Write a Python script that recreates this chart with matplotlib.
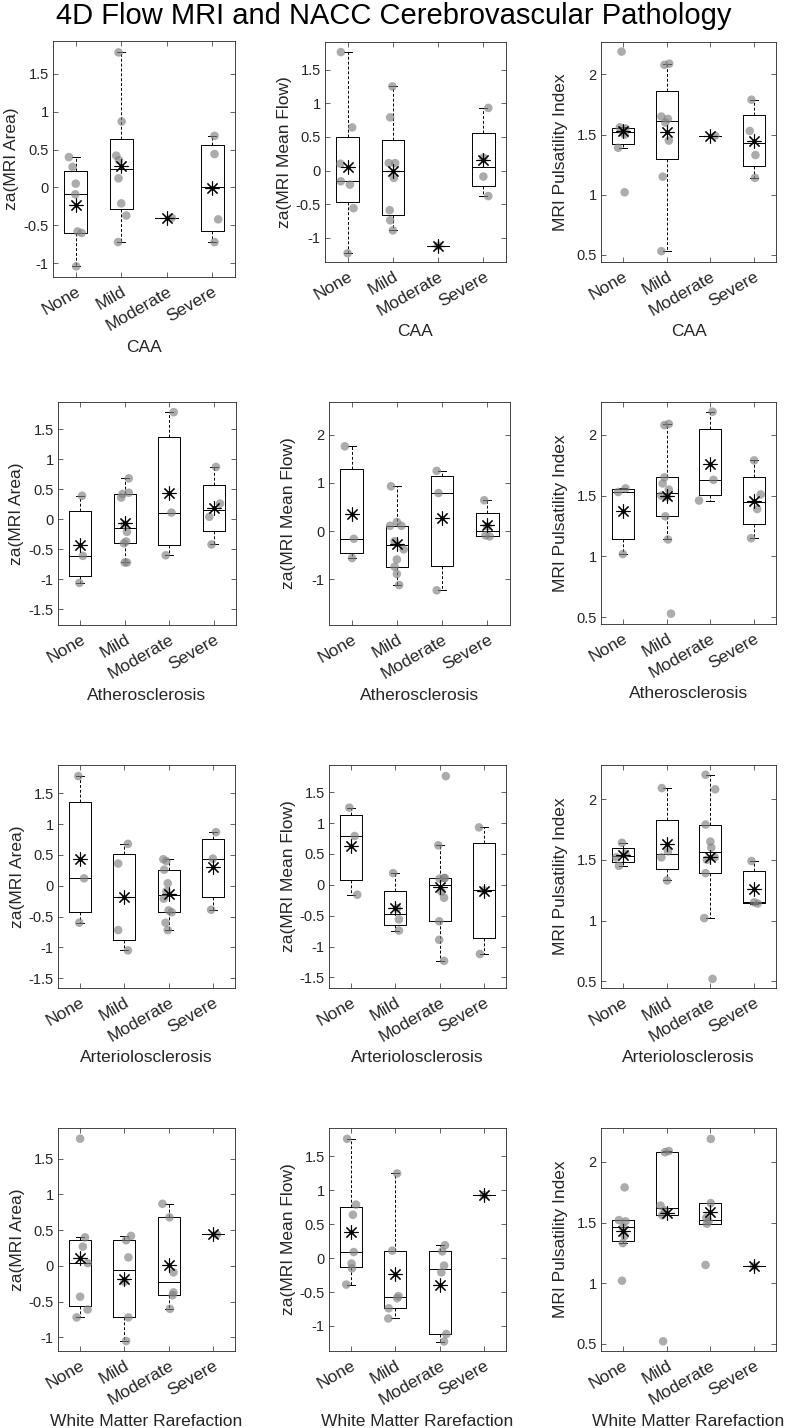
import numpy as np
import matplotlib
matplotlib.use("Agg")
import matplotlib.pyplot as plt

plt.rcParams['font.family'] = ['Liberation Sans', 'DejaVu Sans']
plt.rcParams['axes.unicode_minus'] = False

# --- Data ---
severity = ["None", "Mild", "Moderate", "Severe"]
pathologies = ["CAA", "Atherosclerosis", "Arteriolosclerosis", "White Matter Rarefaction"]
measures = ["za(MRI Area)", "za(MRI Mean Flow)", "MRI Pulsatility Index"]

# values per severity group (None, Mild, Moderate, Severe)
caa_area = [[0.40, 0.27, 0.05, -0.09, -0.58, -0.60, -1.04],
            [1.78, 0.87, 0.42, 0.36, 0.12, -0.21, -0.37, -0.72],
            [-0.40],
            [0.68, 0.44, -0.42, -0.72]]
caa_flow = [[1.76, 0.64, 0.10, -0.16, -0.21, -0.56, -1.23],
            [1.25, 0.79, 0.11, 0.11, -0.11, -0.59, -0.74, -0.89],
            [-1.12],
            [0.93, 0.19, -0.09, -0.38]]
caa_pi = [[2.19, 1.56, 1.55, 1.52, 1.50, 1.39, 1.02],
          [2.09, 2.08, 1.65, 1.63, 1.60, 1.45, 1.15, 0.53],
          [1.49],
          [1.79, 1.53, 1.33, 1.14]]

ath_area = [[0.39, -0.61, -1.06],
            [0.68, 0.44, 0.42, 0.36, -0.09, -0.21, -0.37, -0.40, -0.72, -0.72],
            [1.78, 0.11, -0.60],
            [0.87, 0.26, 0.04, -0.42]]
ath_flow = [[1.76, -0.16, -0.56],
            [0.93, 0.19, 0.11, 0.11, -0.21, -0.38, -0.59, -0.74, -0.89, -1.12],
            [1.25, 0.79, -1.23],
            [0.64, 0.10, -0.09, -0.11]]
ath_pi = [[1.56, 1.53, 1.02],
          [2.09, 2.08, 1.65, 1.60, 1.55, 1.50, 1.49, 1.33, 1.14, 0.53],
          [2.19, 1.63, 1.46],
          [1.79, 1.51, 1.39, 1.15]]

art_area = [[1.78, 0.12, -0.60],
            [0.68, 0.36, -0.72, -1.05],
            [0.43, 0.40, 0.26, 0.04, -0.09, -0.21, -0.40, -0.43, -0.60, -0.72],
            [0.87, 0.44, -0.39]]
art_flow = [[1.25, 0.79, -0.16],
            [0.19, -0.38, -0.56, -0.74],
            [1.76, 0.64, 0.11, 0.11, 0.10, -0.11, -0.21, -0.59, -0.89, -1.23],
            [0.93, -0.09, -1.12]]
art_pi = [[1.64, 1.55, 1.52, 1.45],
          [2.09, 1.57, 1.52, 1.33],
          [2.20, 2.08, 1.79, 1.65, 1.60, 1.52, 1.50, 1.39, 1.02, 0.52],
          [1.49, 1.15, 1.14]]

wmr_area = [[1.78, 0.40, 0.27, 0.04, -0.43, -0.61, -0.72],
            [0.42, 0.36, 0.12, -0.22, -0.72, -1.05],
            [0.87, 0.68, -0.09, -0.37, -0.41, -0.60],
            [0.44]]
wmr_flow = [[1.76, 0.79, 0.64, 0.09, -0.08, -0.15, -0.39],
            [1.25, 0.11, -0.56, -0.59, -0.74, -0.89],
            [0.19, 0.10, -0.11, -0.21, -1.12, -1.23],
            [0.93]]
wmr_pi = [[1.79, 1.52, 1.51, 1.46, 1.39, 1.33, 1.02],
          [2.09, 2.08, 1.64, 1.60, 1.56, 0.52],
          [2.19, 1.66, 1.54, 1.51, 1.49, 1.15],
          [1.14]]

# horizontal jitter of each dot (category units)
caa_area_jit = [[-0.15, -0.07, 0.0, -0.01, 0.04, 0.13, 0.01],
                [-0.06, 0.01, -0.11, -0.05, -0.06, 0.0, 0.11, -0.07],
                [0.11], [0.05, 0.05, 0.13, 0.05]]
caa_flow_jit = [[-0.15, 0.10, -0.16, -0.15, 0.05, 0.13, 0.0],
                [-0.01, -0.06, -0.09, 0.05, 0.02, -0.07, -0.06, 0.0],
                [0.0], [0.11, 0.0, 0.0, 0.11]]
caa_pi_jit = [[-0.03, -0.07, 0.06, 0.0, 0.04, -0.11, 0.04],
              [0.06, -0.05, -0.12, 0.03, -0.03, 0.05, -0.09, -0.12],
              [0.11], [-0.06, -0.10, 0.03, 0.02]]
ath_area_jit = [[0.04, 0.06, -0.02],
                [0.09, 0.09, -0.05, -0.08, 0.0, 0.05, 0.03, -0.02, 0.0, 0.05],
                [0.10, 0.05, -0.08], [0.05, 0.14, -0.10, -0.05]]
ath_flow_jit = [[-0.15, 0.05, 0.01],
                [-0.13, 0.0, -0.15, 0.10, -0.05, 0.15, 0.0, -0.05, 0.0, 0.05],
                [-0.12, -0.08, -0.12], [-0.07, 0.0, -0.04, 0.05]]
ath_pi_jit = [[0.06, -0.11, 0.0],
              [0.05, -0.05, -0.05, -0.09, 0.05, -0.12, 0.01, -0.03, 0.03, 0.10],
              [0.05, 0.07, -0.26], [0.0, 0.15, 0.07, -0.07]]
art_area_jit = [[-0.04, 0.09, -0.02],
                [0.08, -0.14, -0.14, 0.08],
                [-0.12, -0.05, -0.10, -0.02, -0.05, -0.11, 0.0, 0.07, -0.07, -0.02],
                [0.07, 0.0, -0.04]]
art_flow_jit = [[-0.04, 0.08, 0.14],
                [-0.05, 0.04, 0.08, 0.08],
                [0.14, -0.03, 0.10, 0.12, 0.0, 0.04, 0.10, -0.01, -0.01, 0.10],
                [-0.11, 0.0, -0.09]]
art_pi_jit = [[-0.02, 0.06, -0.15, -0.09],
              [-0.11, 0.03, -0.12, 0.01],
              [-0.11, 0.11, -0.11, 0.0, 0.02, 0.10, -0.08, -0.11, -0.14, 0.05],
              [-0.06, 0.0, 0.08]]
wmr_area_jit = [[0.0, 0.11, 0.06, 0.17, 0.0, 0.17, -0.08],
                [0.15, 0.04, 0.09, 0.0, 0.09, 0.04],
                [-0.14, 0.02, 0.11, 0.11, 0.09, 0.03], [0.09]]
wmr_flow_jit = [[-0.09, 0.11, 0.04, 0.06, 0.01, 0.02, -0.11],
                [0.04, -0.07, 0.07, 0.04, -0.15, -0.16],
                [0.12, 0.06, 0.10, 0.04, 0.15, 0.10], [0.0]]
wmr_pi_jit = [[0.04, -0.09, 0.06, 0.0, 0.04, 0.0, -0.02],
              [0.05, -0.04, -0.14, -0.04, -0.10, -0.08],
              [0.01, 0.01, -0.09, -0.04, -0.08, -0.11], [0.0]]

panels = [
    [(caa_area, caa_area_jit), (caa_flow, caa_flow_jit), (caa_pi, caa_pi_jit)],
    [(ath_area, ath_area_jit), (ath_flow, ath_flow_jit), (ath_pi, ath_pi_jit)],
    [(art_area, art_area_jit), (art_flow, art_flow_jit), (art_pi, art_pi_jit)],
    [(wmr_area, wmr_area_jit), (wmr_flow, wmr_flow_jit), (wmr_pi, wmr_pi_jit)],
]

# --- Layout (pixel boxes: left, top, right, bottom) and axis ranges ---
W, H = 788, 1428
boxes = [
    [(53, 41, 235, 277), (325, 42, 506, 262), (601, 42, 776, 262)],
    [(58, 402, 236, 625), (329, 402, 510, 625), (601, 402, 776, 624)],
    [(58, 765, 235, 988), (329, 765, 506, 988), (601, 765, 776, 988)],
    [(58, 1128, 235, 1351), (329, 1128, 506, 1351), (601, 1128, 776, 1351)],
]
ylims = [
    [(-1.18, 1.93), (-1.36, 1.91), (0.44, 2.27)],
    [(-1.76, 1.95), (-1.95, 2.68), (0.445, 2.27)],
    [(-1.66, 1.96), (-1.67, 1.94), (0.445, 2.28)],
    [(-1.19, 1.93), (-1.37, 1.92), (0.44, 2.28)],
]
yticks = [
    [np.arange(-1, 1.6, 0.5), np.arange(-1, 1.6, 0.5), np.arange(0.5, 2.1, 0.5)],
    [np.arange(-1.5, 1.6, 0.5), np.arange(-1, 2.1, 1), np.arange(0.5, 2.1, 0.5)],
    [np.arange(-1.5, 1.6, 0.5), np.arange(-1.5, 1.6, 0.5), np.arange(0.5, 2.1, 0.5)],
    [np.arange(-1, 1.6, 0.5), np.arange(-1, 1.6, 0.5), np.arange(0.5, 2.1, 0.5)],
]

FRAME = '#262626'


def matlab_stats(vals):
    v = np.asarray(vals, float)
    q1, med, q3 = np.percentile(v, [25, 50, 75], method='hazen')
    iqr = q3 - q1
    lo = v[v >= q1 - 1.5 * iqr].min()
    hi = v[v <= q3 + 1.5 * iqr].max()
    return dict(med=med, q1=q1, q3=q3, whislo=lo, whishi=hi, fliers=[])


def draw_panel(ax, groups, jitter):
    pos = np.arange(1, len(groups) + 1)
    stats = [matlab_stats(g) for g in groups]
    lp = dict(color='k', linewidth=0.7)
    ax.bxp(stats, positions=pos, widths=0.5, capwidths=0.18, showfliers=False,
           boxprops=lp, medianprops=lp, capprops=lp,
           whiskerprops=dict(color='k', linewidth=0.7, linestyle=(0, (3, 2))))
    for p, g, j in zip(pos, groups, jitter):
        ax.scatter(p + np.asarray(j), g, s=38, color='#808080', alpha=0.65,
                   edgecolors='none', zorder=3)
    means = [np.mean(g) for g in groups]
    ax.plot(pos, means, linestyle='none', marker=(8, 2, 0), markersize=10,
            markeredgewidth=0.8, color='k', zorder=4)
    ax.plot(pos, means, linestyle='none', marker='.', markersize=4,
            color='k', zorder=5)


fig = plt.figure(figsize=(W / 100, H / 100), dpi=100)
fig.text(393.5 / W, 1 - 16 / H, "4D Flow MRI and NACC Cerebrovascular Pathology",
         ha='center', va='center', fontsize=21, color='k')

for r in range(4):
    for c in range(3):
        l, t, rr, b = boxes[r][c]
        ax = fig.add_axes([l / W, 1 - b / H, (rr - l) / W, (b - t) / H])
        groups, jit = panels[r][c]
        draw_panel(ax, groups, jit)
        ax.set_xlim(0.5, 4.5)
        ax.set_ylim(*ylims[r][c])
        ax.set_yticks(yticks[r][c])
        ax.set_yticklabels(['%g' % round(v, 2) for v in yticks[r][c]])
        ax.set_xticks(np.arange(1, 5))
        ax.set_xticklabels(severity, rotation=30, ha='right', fontsize=12.5,
                           rotation_mode='anchor', va='top')
        ax.tick_params(direction='in', top=True, right=True, length=3.5,
                       width=0.5, colors=FRAME, pad=3)
        ax.tick_params(axis='y', labelsize=10.5)
        ax.tick_params(axis='x', pad=5)
        for s in ax.spines.values():
            s.set_linewidth(0.6)
            s.set_color(FRAME)
        ax.set_ylabel(measures[c], fontsize=12.5, color=FRAME, va='center')
        ax.yaxis.set_label_coords(-41 / (rr - l), 0.5)
        ax.set_xlabel(pathologies[r], fontsize=12.5, color=FRAME, va='center')
        ax.xaxis.set_label_coords(0.5, -70 / (b - t))

fig.savefig("out.png", dpi=100)
